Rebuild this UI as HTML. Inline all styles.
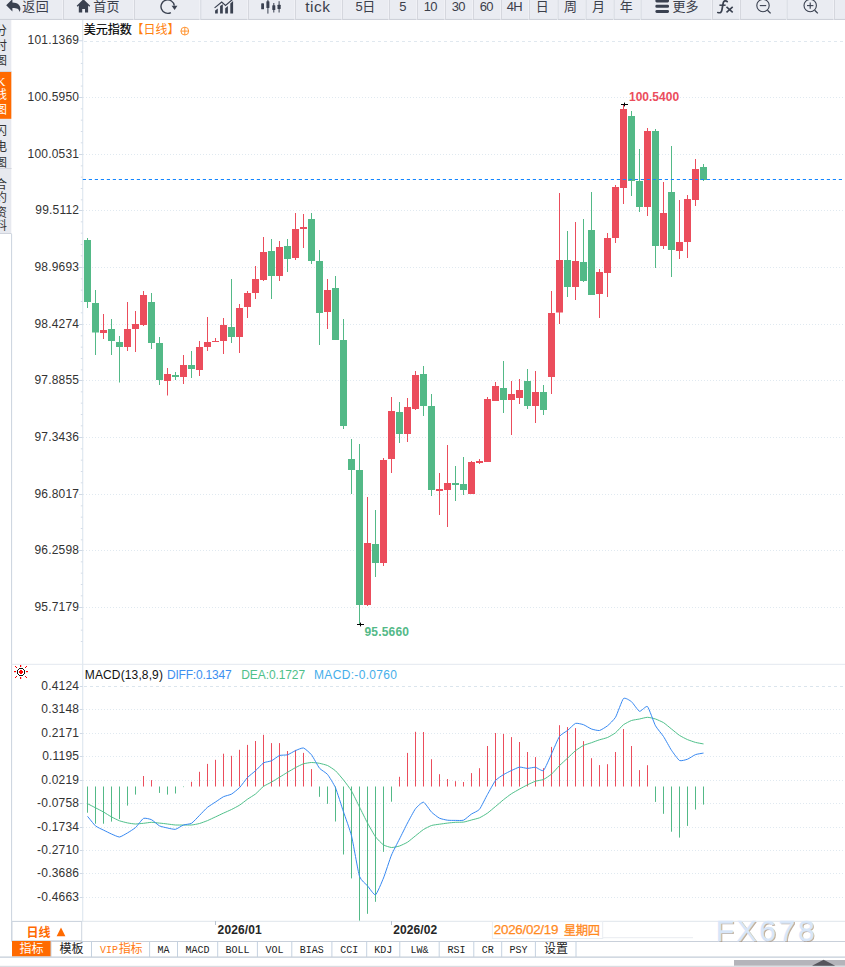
<!DOCTYPE html>
<html><head><meta charset="utf-8"><title>chart</title>
<style>html,body{margin:0;padding:0;background:#fff;}body{width:845px;height:967px;overflow:hidden;font-family:"Liberation Sans",sans-serif;}svg{display:block}</style>
</head><body>
<svg width="845" height="967" viewBox="0 0 845 967">
<defs><filter id="wb" x="-5%" y="-20%" width="110%" height="140%"><feGaussianBlur stdDeviation="0.5"/></filter><clipPath id="sbclip"><rect x="0" y="20" width="11.6" height="214"/></clipPath></defs>
<rect x="0" y="0" width="845" height="20" fill="#f6f7fa"/><rect x="0" y="0" width="62.5" height="20" fill="#eaecf2"/><rect x="0" y="18.9" width="62.5" height="1.1" fill="#ced1d9"/><rect x="63.5" y="0" width="70" height="20" fill="#eaecf2"/><rect x="63.5" y="18.9" width="70" height="1.1" fill="#ced1d9"/><rect x="63.1" y="0" width="0.8" height="20" fill="#ced1d9"/><rect x="134.5" y="0" width="65" height="20" fill="#eaecf2"/><rect x="134.5" y="18.9" width="65" height="1.1" fill="#ced1d9"/><rect x="134.1" y="0" width="0.8" height="20" fill="#ced1d9"/><rect x="200.8" y="0" width="46.7" height="20" fill="#eaecf2"/><rect x="200.8" y="18.9" width="46.7" height="1.1" fill="#ced1d9"/><rect x="200.4" y="0" width="0.8" height="20" fill="#ced1d9"/><rect x="248.5" y="0" width="46" height="20" fill="#eaecf2"/><rect x="248.5" y="18.9" width="46" height="1.1" fill="#ced1d9"/><rect x="248.1" y="0" width="0.8" height="20" fill="#ced1d9"/><rect x="295.5" y="0" width="46" height="20" fill="#eaecf2"/><rect x="295.5" y="18.9" width="46" height="1.1" fill="#ced1d9"/><rect x="295.1" y="0" width="0.8" height="20" fill="#ced1d9"/><rect x="342.5" y="0" width="46" height="20" fill="#eaecf2"/><rect x="342.5" y="18.9" width="46" height="1.1" fill="#ced1d9"/><rect x="342.1" y="0" width="0.8" height="20" fill="#ced1d9"/><rect x="389.5" y="0" width="27" height="20" fill="#eaecf2"/><rect x="389.5" y="18.9" width="27" height="1.1" fill="#ced1d9"/><rect x="389.1" y="0" width="0.8" height="20" fill="#ced1d9"/><rect x="417.5" y="0" width="27" height="20" fill="#eaecf2"/><rect x="417.5" y="18.9" width="27" height="1.1" fill="#ced1d9"/><rect x="417.1" y="0" width="0.8" height="20" fill="#ced1d9"/><rect x="445.5" y="0" width="27" height="20" fill="#eaecf2"/><rect x="445.5" y="18.9" width="27" height="1.1" fill="#ced1d9"/><rect x="445.1" y="0" width="0.8" height="20" fill="#ced1d9"/><rect x="473.5" y="0" width="27" height="20" fill="#eaecf2"/><rect x="473.5" y="18.9" width="27" height="1.1" fill="#ced1d9"/><rect x="473.1" y="0" width="0.8" height="20" fill="#ced1d9"/><rect x="501.5" y="0" width="27" height="20" fill="#eaecf2"/><rect x="501.5" y="18.9" width="27" height="1.1" fill="#ced1d9"/><rect x="501.1" y="0" width="0.8" height="20" fill="#ced1d9"/><rect x="529.5" y="0" width="27.5" height="20" fill="#eaecf2"/><rect x="529.5" y="18.9" width="27.5" height="1.1" fill="#ced1d9"/><rect x="529.1" y="0" width="0.8" height="20" fill="#ced1d9"/><rect x="558" y="0" width="27" height="20" fill="#eaecf2"/><rect x="558" y="18.9" width="27" height="1.1" fill="#ced1d9"/><rect x="557.6" y="0" width="0.8" height="20" fill="#ced1d9"/><rect x="586" y="0" width="27" height="20" fill="#eaecf2"/><rect x="586" y="18.9" width="27" height="1.1" fill="#ced1d9"/><rect x="585.6" y="0" width="0.8" height="20" fill="#ced1d9"/><rect x="614" y="0" width="26" height="20" fill="#eaecf2"/><rect x="614" y="18.9" width="26" height="1.1" fill="#ced1d9"/><rect x="613.6" y="0" width="0.8" height="20" fill="#ced1d9"/><rect x="641" y="0" width="70.5" height="20" fill="#eaecf2"/><rect x="641" y="18.9" width="70.5" height="1.1" fill="#ced1d9"/><rect x="640.6" y="0" width="0.8" height="20" fill="#ced1d9"/><rect x="712.5" y="0" width="27" height="20" fill="#eaecf2"/><rect x="712.5" y="18.9" width="27" height="1.1" fill="#ced1d9"/><rect x="712.1" y="0" width="0.8" height="20" fill="#ced1d9"/><rect x="740.5" y="0" width="45.5" height="20" fill="#eaecf2"/><rect x="740.5" y="18.9" width="45.5" height="1.1" fill="#ced1d9"/><rect x="740.1" y="0" width="0.8" height="20" fill="#ced1d9"/><rect x="787" y="0" width="46.5" height="20" fill="#eaecf2"/><rect x="787" y="18.9" width="46.5" height="1.1" fill="#ced1d9"/><rect x="786.6" y="0" width="0.8" height="20" fill="#ced1d9"/><rect x="834.5" y="0" width="11.5" height="20" fill="#eaecf2"/><rect x="834.5" y="18.9" width="11.5" height="1.1" fill="#ced1d9"/><rect x="834.1" y="0" width="0.8" height="20" fill="#ced1d9"/><path d="M6.2 5.3 L12.4 -0.9 L12.4 2.5 C17.6 2.5 20.4 5.3 20.4 8.8 C20.4 10.2 19.9 11.2 19.2 11.9 C19.3 9.2 17.2 8.1 12.4 8.1 L12.4 11.5 Z" fill="#3a4150"/><text x="22.3" y="11.3" font-family="'Liberation Sans','Noto Sans CJK SC',sans-serif" font-size="13" fill="#3c404b" letter-spacing="0.5">返回</text><path d="M83.4 -0.8 L90.2 5.7 L89.3 6.7 L88.1 5.6 L88.1 12.6 L85 12.6 L85 9.1 L82.2 9.1 L82.2 12.6 L78.8 12.6 L78.8 5.6 L77.6 6.7 L76.7 5.7 Z" fill="#3a4150"/><text x="93.3" y="11.3" font-family="'Liberation Sans','Noto Sans CJK SC',sans-serif" font-size="13" fill="#3c404b" letter-spacing="0.2">首页</text><path d="M174.33 5.67 A6.7 6.7 0 1 0 170.85 12.52" fill="none" stroke="#3a4150" stroke-width="1.4"/><path d="M171.6 5.7 L177.4 5.7 L174.6 9.9 Z" fill="#3a4150"/><path d="M215.1 10.6 L217.8 8.4 V13.6 H215.1 Z M220.1 6 L222.8 4.2 V13.6 H220.1 Z M225.2 8.2 L227.9 6 V13.6 H225.2 Z M230.3 3.4 L233.1 1 V13.6 H230.3 Z" fill="#3a4150"/><path d="M214.6 7.9 L221.7 2.1 L225.5 5.4 L232.4 -0.4" fill="none" stroke="#3a4150" stroke-width="1.2"/><g fill="#3a4150"><rect x="261.2" y="3.3" width="2.8" height="6" rx="0.6"/><rect x="266.4" y="1.2" width="3" height="6.9" rx="0.5"/><rect x="267.4" y="-1" width="1" height="14.6"/><rect x="272.3" y="5.3" width="3" height="4.8" rx="0.5"/><rect x="273.3" y="3" width="1" height="9.5"/><rect x="277.5" y="4.7" width="3.2" height="4.3" rx="0.5"/><rect x="278.6" y="1.2" width="1" height="11.3"/></g><text x="305.2" y="11.6" font-family="Liberation Sans" font-size="15.5" fill="#3c404b" letter-spacing="0.55">tick</text><text x="355.4" y="11.4" font-family="Liberation Sans" font-size="13" fill="#3c404b">5</text><text x="362.2" y="11.3" font-family="'Liberation Sans','Noto Sans CJK SC',sans-serif" font-size="13" fill="#3c404b">日</text><text x="402.6" y="11.4" font-family="Liberation Sans" font-size="13" fill="#3c404b" text-anchor="middle" letter-spacing="-0.7">5</text><text x="430.2" y="11.4" font-family="Liberation Sans" font-size="13" fill="#3c404b" text-anchor="middle" letter-spacing="-0.7">10</text><text x="458.2" y="11.4" font-family="Liberation Sans" font-size="13" fill="#3c404b" text-anchor="middle" letter-spacing="-0.7">30</text><text x="486.2" y="11.4" font-family="Liberation Sans" font-size="13" fill="#3c404b" text-anchor="middle" letter-spacing="-0.7">60</text><text x="514.4" y="11.4" font-family="Liberation Sans" font-size="13" fill="#3c404b" text-anchor="middle" letter-spacing="-0.7">4H</text><text x="535.8" y="11.4" font-family="'Liberation Sans','Noto Sans CJK SC',sans-serif" font-size="13" fill="#3c404b">日</text><text x="564" y="11.4" font-family="'Liberation Sans','Noto Sans CJK SC',sans-serif" font-size="13" fill="#3c404b">周</text><text x="592" y="11.4" font-family="'Liberation Sans','Noto Sans CJK SC',sans-serif" font-size="13" fill="#3c404b">月</text><text x="619.7" y="11.4" font-family="'Liberation Sans','Noto Sans CJK SC',sans-serif" font-size="13" fill="#3c404b">年</text><g fill="#3a4150"><rect x="655.4" y="-1" width="13.6" height="3.4" rx="1.3"/><rect x="655.4" y="4.7" width="13.6" height="3" rx="1.3"/><rect x="655.4" y="9.9" width="13.6" height="3" rx="1.3"/></g><text x="672.4" y="11.4" font-family="'Liberation Sans','Noto Sans CJK SC',sans-serif" font-size="13" fill="#3c404b" letter-spacing="0.2">更多</text><path d="M727.2 1.6 C725.6 0.2 723.6 0.7 723.2 3 L721.9 10 C721.5 12.3 720.2 13.3 717.8 12.5" stroke="#3a4150" stroke-width="1.7" fill="none" stroke-linecap="round"/><path d="M719.4 5.2 H725.6" stroke="#3a4150" stroke-width="1.5" fill="none"/><path d="M726.5 6.9 L732.7 12.3 M732.7 6.9 L726.5 12.3" stroke="#3a4150" stroke-width="1.6" fill="none"/><circle cx="763" cy="5.6" r="6.2" fill="none" stroke="#3a4150" stroke-width="1.1"/><path d="M767.5 10.2 L770.6 13.4" stroke="#3a4150" stroke-width="1.3" fill="none"/><path d="M759.8 5.6 H766.2" stroke="#3a4150" stroke-width="1.1"/><circle cx="810.2" cy="5.6" r="6.2" fill="none" stroke="#3a4150" stroke-width="1.1"/><path d="M814.7 10.2 L817.8000000000001 13.4" stroke="#3a4150" stroke-width="1.3" fill="none"/><path d="M807.0 5.6 H813.4000000000001" stroke="#3a4150" stroke-width="1.1"/><path d="M810.2 2.4 V8.8" stroke="#3a4150" stroke-width="1.1"/><rect x="0" y="20" width="11.3" height="213.2" fill="#e7e9ef"/><rect x="0" y="72" width="11.3" height="46.8" fill="#ff6a00"/><line x1="0" y1="71.5" x2="11.6" y2="71.5" stroke="#d3d6de" stroke-width="1"/><line x1="0" y1="168.5" x2="11.6" y2="168.5" stroke="#d3d6de" stroke-width="1"/><line x1="0" y1="233.5" x2="11.6" y2="233.5" stroke="#cfd3dc" stroke-width="1"/><g clip-path="url(#sbclip)" font-family="'Liberation Sans','Noto Sans CJK SC',sans-serif" font-size="12"><text x="-4.9" y="34.5" fill="#333">分</text><text x="-4.9" y="50" fill="#333">时</text><text x="-4.9" y="65.3" fill="#333">图</text><text x="-3.4" y="86.4" font-family="Liberation Serif" font-size="12.5" fill="#fff">K</text><text x="-4.9" y="99.2" fill="#fff">线</text><text x="-4.9" y="113.7" fill="#fff">图</text><text x="-4.9" y="135.1" fill="#333">闪</text><text x="-4.9" y="150.6" fill="#333">电</text><text x="-4.9" y="167.3" fill="#333">图</text><text x="-4.9" y="188.7" fill="#333">合</text><text x="-4.9" y="202.4" fill="#333">约</text><text x="-4.9" y="216.8" fill="#333">资</text><text x="-4.9" y="230.4" fill="#333">料</text></g><line x1="11.6" y1="234" x2="11.6" y2="941" stroke="#cad3de" stroke-width="1"/><line x1="82.7" y1="20" x2="82.7" y2="921" stroke="#dfe8f0" stroke-width="1.2"/><line x1="11.5" y1="664.3" x2="845" y2="664.3" stroke="#e3e8ef" stroke-width="1"/><line x1="11.5" y1="921.3" x2="845" y2="921.3" stroke="#dfe5ec" stroke-width="1"/><line x1="11.5" y1="941.5" x2="845" y2="941.5" stroke="#c9d0da" stroke-width="1.2"/><line x1="84" y1="41.5" x2="845" y2="41.5" stroke="#e0e8ef" stroke-width="1" stroke-dasharray="3 3"/><line x1="79" y1="40.75" x2="82.7" y2="40.75" stroke="#cfd8e4" stroke-width="1"/><text x="79.2" y="44.45" font-family="Liberation Sans" font-size="12" fill="#333" text-anchor="end" letter-spacing="0.2">101.1369</text><line x1="80.8" y1="52.08" x2="82.7" y2="52.08" stroke="#d5dde8" stroke-width="1"/><line x1="80.8" y1="63.41" x2="82.7" y2="63.41" stroke="#d5dde8" stroke-width="1"/><line x1="80.8" y1="74.74" x2="82.7" y2="74.74" stroke="#d5dde8" stroke-width="1"/><line x1="80.8" y1="86.07" x2="82.7" y2="86.07" stroke="#d5dde8" stroke-width="1"/><line x1="83" y1="97.5" x2="843" y2="97.5" stroke="#e0e9f0" stroke-width="1" stroke-dasharray="1 2"/><line x1="79" y1="97.5" x2="82.7" y2="97.5" stroke="#cfd8e4" stroke-width="1"/><text x="79.2" y="101.2" font-family="Liberation Sans" font-size="12" fill="#333" text-anchor="end" letter-spacing="0.2">100.5950</text><line x1="80.8" y1="108.83" x2="82.7" y2="108.83" stroke="#d5dde8" stroke-width="1"/><line x1="80.8" y1="120.16" x2="82.7" y2="120.16" stroke="#d5dde8" stroke-width="1"/><line x1="80.8" y1="131.49" x2="82.7" y2="131.49" stroke="#d5dde8" stroke-width="1"/><line x1="80.8" y1="142.82" x2="82.7" y2="142.82" stroke="#d5dde8" stroke-width="1"/><line x1="83" y1="154.5" x2="843" y2="154.5" stroke="#e0e9f0" stroke-width="1" stroke-dasharray="1 2"/><line x1="79" y1="154.5" x2="82.7" y2="154.5" stroke="#cfd8e4" stroke-width="1"/><text x="79.2" y="158.2" font-family="Liberation Sans" font-size="12" fill="#333" text-anchor="end" letter-spacing="0.2">100.0531</text><line x1="80.8" y1="165.83" x2="82.7" y2="165.83" stroke="#d5dde8" stroke-width="1"/><line x1="80.8" y1="177.16" x2="82.7" y2="177.16" stroke="#d5dde8" stroke-width="1"/><line x1="80.8" y1="188.49" x2="82.7" y2="188.49" stroke="#d5dde8" stroke-width="1"/><line x1="80.8" y1="199.82" x2="82.7" y2="199.82" stroke="#d5dde8" stroke-width="1"/><line x1="83" y1="210.5" x2="843" y2="210.5" stroke="#e0e9f0" stroke-width="1" stroke-dasharray="1 2"/><line x1="79" y1="210.5" x2="82.7" y2="210.5" stroke="#cfd8e4" stroke-width="1"/><text x="79.2" y="214.2" font-family="Liberation Sans" font-size="12" fill="#333" text-anchor="end" letter-spacing="0.2">99.5112</text><line x1="80.8" y1="221.83" x2="82.7" y2="221.83" stroke="#d5dde8" stroke-width="1"/><line x1="80.8" y1="233.16" x2="82.7" y2="233.16" stroke="#d5dde8" stroke-width="1"/><line x1="80.8" y1="244.49" x2="82.7" y2="244.49" stroke="#d5dde8" stroke-width="1"/><line x1="80.8" y1="255.82" x2="82.7" y2="255.82" stroke="#d5dde8" stroke-width="1"/><line x1="83" y1="267.5" x2="843" y2="267.5" stroke="#e0e9f0" stroke-width="1" stroke-dasharray="1 2"/><line x1="79" y1="267.5" x2="82.7" y2="267.5" stroke="#cfd8e4" stroke-width="1"/><text x="79.2" y="271.2" font-family="Liberation Sans" font-size="12" fill="#333" text-anchor="end" letter-spacing="0.2">98.9693</text><line x1="80.8" y1="278.83" x2="82.7" y2="278.83" stroke="#d5dde8" stroke-width="1"/><line x1="80.8" y1="290.16" x2="82.7" y2="290.16" stroke="#d5dde8" stroke-width="1"/><line x1="80.8" y1="301.49" x2="82.7" y2="301.49" stroke="#d5dde8" stroke-width="1"/><line x1="80.8" y1="312.82" x2="82.7" y2="312.82" stroke="#d5dde8" stroke-width="1"/><line x1="83" y1="324.5" x2="843" y2="324.5" stroke="#e0e9f0" stroke-width="1" stroke-dasharray="1 2"/><line x1="79" y1="324.5" x2="82.7" y2="324.5" stroke="#cfd8e4" stroke-width="1"/><text x="79.2" y="328.2" font-family="Liberation Sans" font-size="12" fill="#333" text-anchor="end" letter-spacing="0.2">98.4274</text><line x1="80.8" y1="335.83" x2="82.7" y2="335.83" stroke="#d5dde8" stroke-width="1"/><line x1="80.8" y1="347.16" x2="82.7" y2="347.16" stroke="#d5dde8" stroke-width="1"/><line x1="80.8" y1="358.49" x2="82.7" y2="358.49" stroke="#d5dde8" stroke-width="1"/><line x1="80.8" y1="369.82" x2="82.7" y2="369.82" stroke="#d5dde8" stroke-width="1"/><line x1="83" y1="380.5" x2="843" y2="380.5" stroke="#e0e9f0" stroke-width="1" stroke-dasharray="1 2"/><line x1="79" y1="380.5" x2="82.7" y2="380.5" stroke="#cfd8e4" stroke-width="1"/><text x="79.2" y="384.2" font-family="Liberation Sans" font-size="12" fill="#333" text-anchor="end" letter-spacing="0.2">97.8855</text><line x1="80.8" y1="391.83" x2="82.7" y2="391.83" stroke="#d5dde8" stroke-width="1"/><line x1="80.8" y1="403.16" x2="82.7" y2="403.16" stroke="#d5dde8" stroke-width="1"/><line x1="80.8" y1="414.49" x2="82.7" y2="414.49" stroke="#d5dde8" stroke-width="1"/><line x1="80.8" y1="425.82" x2="82.7" y2="425.82" stroke="#d5dde8" stroke-width="1"/><line x1="83" y1="437.5" x2="843" y2="437.5" stroke="#e0e9f0" stroke-width="1" stroke-dasharray="1 2"/><line x1="79" y1="437.5" x2="82.7" y2="437.5" stroke="#cfd8e4" stroke-width="1"/><text x="79.2" y="441.2" font-family="Liberation Sans" font-size="12" fill="#333" text-anchor="end" letter-spacing="0.2">97.3436</text><line x1="80.8" y1="448.83" x2="82.7" y2="448.83" stroke="#d5dde8" stroke-width="1"/><line x1="80.8" y1="460.16" x2="82.7" y2="460.16" stroke="#d5dde8" stroke-width="1"/><line x1="80.8" y1="471.49" x2="82.7" y2="471.49" stroke="#d5dde8" stroke-width="1"/><line x1="80.8" y1="482.82" x2="82.7" y2="482.82" stroke="#d5dde8" stroke-width="1"/><line x1="83" y1="494.5" x2="843" y2="494.5" stroke="#e0e9f0" stroke-width="1" stroke-dasharray="1 2"/><line x1="79" y1="494.5" x2="82.7" y2="494.5" stroke="#cfd8e4" stroke-width="1"/><text x="79.2" y="498.2" font-family="Liberation Sans" font-size="12" fill="#333" text-anchor="end" letter-spacing="0.2">96.8017</text><line x1="80.8" y1="505.83" x2="82.7" y2="505.83" stroke="#d5dde8" stroke-width="1"/><line x1="80.8" y1="517.16" x2="82.7" y2="517.16" stroke="#d5dde8" stroke-width="1"/><line x1="80.8" y1="528.49" x2="82.7" y2="528.49" stroke="#d5dde8" stroke-width="1"/><line x1="80.8" y1="539.82" x2="82.7" y2="539.82" stroke="#d5dde8" stroke-width="1"/><line x1="83" y1="550.5" x2="843" y2="550.5" stroke="#e0e9f0" stroke-width="1" stroke-dasharray="1 2"/><line x1="79" y1="550.5" x2="82.7" y2="550.5" stroke="#cfd8e4" stroke-width="1"/><text x="79.2" y="554.2" font-family="Liberation Sans" font-size="12" fill="#333" text-anchor="end" letter-spacing="0.2">96.2598</text><line x1="80.8" y1="561.83" x2="82.7" y2="561.83" stroke="#d5dde8" stroke-width="1"/><line x1="80.8" y1="573.16" x2="82.7" y2="573.16" stroke="#d5dde8" stroke-width="1"/><line x1="80.8" y1="584.49" x2="82.7" y2="584.49" stroke="#d5dde8" stroke-width="1"/><line x1="80.8" y1="595.82" x2="82.7" y2="595.82" stroke="#d5dde8" stroke-width="1"/><line x1="83" y1="607.5" x2="843" y2="607.5" stroke="#e0e9f0" stroke-width="1" stroke-dasharray="1 2"/><line x1="79" y1="607.5" x2="82.7" y2="607.5" stroke="#cfd8e4" stroke-width="1"/><text x="79.2" y="611.2" font-family="Liberation Sans" font-size="12" fill="#333" text-anchor="end" letter-spacing="0.2">95.7179</text><line x1="80.8" y1="618.83" x2="82.7" y2="618.83" stroke="#d5dde8" stroke-width="1"/><line x1="80.8" y1="630.16" x2="82.7" y2="630.16" stroke="#d5dde8" stroke-width="1"/><line x1="80.8" y1="641.49" x2="82.7" y2="641.49" stroke="#d5dde8" stroke-width="1"/><text x="83.8" y="34.4" font-family="'Liberation Sans','Noto Sans CJK SC',sans-serif" font-size="12" fill="#000" stroke="#000" stroke-width="0.2">美元指数</text><text x="131.6" y="34.4" font-family="'Liberation Sans','Noto Sans CJK SC',sans-serif" font-size="12" fill="#ff7f0e">【日线】</text><g stroke="#ff8a1f" stroke-width="0.9" fill="none"><circle cx="184.8" cy="31.1" r="3.9"/><path d="M180.9 31.1 H188.7 M184.8 27.2 V35"/></g><rect x="87" y="238" width="1" height="70" fill="#53b987"/><rect x="84" y="240" width="7" height="62" fill="#53b987"/><rect x="95" y="290" width="1" height="65" fill="#53b987"/><rect x="92" y="303" width="7" height="29.5" fill="#53b987"/><rect x="103" y="314" width="1" height="25" fill="#eb4d5c"/><rect x="100" y="330" width="7" height="3" fill="#eb4d5c"/><rect x="111" y="319" width="1" height="36" fill="#53b987"/><rect x="108" y="329" width="7" height="12" fill="#53b987"/><rect x="119" y="336" width="1" height="46.5" fill="#53b987"/><rect x="116" y="342" width="7" height="5" fill="#53b987"/><rect x="127" y="302" width="1" height="49" fill="#eb4d5c"/><rect x="124" y="329" width="7" height="18" fill="#eb4d5c"/><rect x="135" y="311" width="1" height="41" fill="#eb4d5c"/><rect x="132" y="324" width="7" height="5" fill="#eb4d5c"/><rect x="143" y="291" width="1" height="35" fill="#eb4d5c"/><rect x="140" y="295" width="7" height="30" fill="#eb4d5c"/><rect x="151" y="293" width="1" height="56" fill="#53b987"/><rect x="148" y="302" width="7" height="41" fill="#53b987"/><rect x="159" y="337" width="1" height="48" fill="#53b987"/><rect x="156" y="343" width="7" height="37" fill="#53b987"/><rect x="167" y="368" width="1" height="27.5" fill="#eb4d5c"/><rect x="164" y="374" width="7" height="7" fill="#eb4d5c"/><rect x="175" y="372" width="1" height="8" fill="#53b987"/><rect x="172" y="375" width="7" height="2" fill="#53b987"/><rect x="183" y="355" width="1" height="29" fill="#eb4d5c"/><rect x="180" y="365" width="7" height="12" fill="#eb4d5c"/><rect x="191" y="351" width="1" height="27" fill="#53b987"/><rect x="188" y="365" width="7" height="4" fill="#53b987"/><rect x="199" y="341" width="1" height="35" fill="#eb4d5c"/><rect x="196" y="347" width="7" height="23" fill="#eb4d5c"/><rect x="207" y="317" width="1" height="34" fill="#eb4d5c"/><rect x="204" y="342" width="7" height="5" fill="#eb4d5c"/><rect x="215" y="338" width="1" height="4" fill="#eb4d5c"/><rect x="212" y="341" width="7" height="1" fill="#eb4d5c"/><rect x="223" y="318" width="1" height="36" fill="#eb4d5c"/><rect x="220" y="325" width="7" height="16" fill="#eb4d5c"/><rect x="231" y="279" width="1" height="64" fill="#53b987"/><rect x="228" y="327" width="7" height="10" fill="#53b987"/><rect x="239" y="304" width="1" height="49" fill="#eb4d5c"/><rect x="236" y="308" width="7" height="29" fill="#eb4d5c"/><rect x="247" y="291" width="1" height="27" fill="#eb4d5c"/><rect x="244" y="293" width="7" height="14" fill="#eb4d5c"/><rect x="255" y="266" width="1" height="33" fill="#eb4d5c"/><rect x="252" y="279" width="7" height="14" fill="#eb4d5c"/><rect x="263" y="237" width="1" height="44" fill="#eb4d5c"/><rect x="260" y="252" width="7" height="28" fill="#eb4d5c"/><rect x="271" y="239" width="1" height="60" fill="#53b987"/><rect x="268" y="251" width="7" height="25" fill="#53b987"/><rect x="279" y="241" width="1" height="40" fill="#eb4d5c"/><rect x="276" y="247" width="7" height="29" fill="#eb4d5c"/><rect x="287" y="239" width="1" height="33" fill="#53b987"/><rect x="284" y="246" width="7" height="13" fill="#53b987"/><rect x="295" y="213" width="1" height="47" fill="#eb4d5c"/><rect x="292" y="229" width="7" height="29" fill="#eb4d5c"/><rect x="303" y="214" width="1" height="34" fill="#eb4d5c"/><rect x="300" y="227" width="7" height="2" fill="#eb4d5c"/><rect x="311" y="213" width="1" height="51" fill="#53b987"/><rect x="308" y="219" width="7" height="42" fill="#53b987"/><rect x="319" y="250" width="1" height="95" fill="#53b987"/><rect x="316" y="261" width="7" height="52" fill="#53b987"/><rect x="327" y="279" width="1" height="50" fill="#eb4d5c"/><rect x="324" y="290" width="7" height="22" fill="#eb4d5c"/><rect x="335" y="276" width="1" height="64" fill="#53b987"/><rect x="332" y="288" width="7" height="52" fill="#53b987"/><rect x="343" y="319" width="1" height="110" fill="#53b987"/><rect x="340" y="340" width="7" height="86" fill="#53b987"/><rect x="351" y="439" width="1" height="55" fill="#53b987"/><rect x="348" y="459" width="7" height="11" fill="#53b987"/><rect x="359" y="444" width="1" height="180.5" fill="#53b987"/><rect x="356" y="470" width="7" height="135" fill="#53b987"/><rect x="367" y="497" width="1" height="109" fill="#eb4d5c"/><rect x="364" y="543" width="7" height="62" fill="#eb4d5c"/><rect x="375" y="510" width="1" height="67" fill="#53b987"/><rect x="372" y="544" width="7" height="19" fill="#53b987"/><rect x="383" y="458" width="1" height="108" fill="#eb4d5c"/><rect x="380" y="460" width="7" height="103" fill="#eb4d5c"/><rect x="391" y="397" width="1" height="76" fill="#eb4d5c"/><rect x="388" y="411" width="7" height="48" fill="#eb4d5c"/><rect x="399" y="402" width="1" height="41" fill="#53b987"/><rect x="396" y="412" width="7" height="22" fill="#53b987"/><rect x="407" y="398" width="1" height="44" fill="#eb4d5c"/><rect x="404" y="407" width="7" height="27" fill="#eb4d5c"/><rect x="415" y="371" width="1" height="39" fill="#eb4d5c"/><rect x="412" y="375" width="7" height="34" fill="#eb4d5c"/><rect x="423" y="366" width="1" height="50" fill="#53b987"/><rect x="420" y="374" width="7" height="32" fill="#53b987"/><rect x="431" y="394" width="1" height="102" fill="#53b987"/><rect x="428" y="406" width="7" height="84" fill="#53b987"/><rect x="439" y="473" width="1" height="42" fill="#eb4d5c"/><rect x="436" y="489" width="7" height="2" fill="#eb4d5c"/><rect x="447" y="445" width="1" height="82" fill="#eb4d5c"/><rect x="444" y="483" width="7" height="7" fill="#eb4d5c"/><rect x="455" y="466" width="1" height="35" fill="#53b987"/><rect x="452" y="483" width="7" height="2" fill="#53b987"/><rect x="463" y="457" width="1" height="38" fill="#53b987"/><rect x="460" y="484" width="7" height="6" fill="#53b987"/><rect x="471" y="461" width="1" height="33" fill="#eb4d5c"/><rect x="468" y="462" width="7" height="32" fill="#eb4d5c"/><rect x="479" y="459" width="1" height="5" fill="#eb4d5c"/><rect x="476" y="461" width="7" height="2" fill="#eb4d5c"/><rect x="487" y="397" width="1" height="65" fill="#eb4d5c"/><rect x="484" y="399" width="7" height="63" fill="#eb4d5c"/><rect x="495" y="382" width="1" height="19" fill="#eb4d5c"/><rect x="492" y="386" width="7" height="15" fill="#eb4d5c"/><rect x="503" y="361" width="1" height="52" fill="#53b987"/><rect x="500" y="388" width="7" height="12" fill="#53b987"/><rect x="511" y="381" width="1" height="54" fill="#eb4d5c"/><rect x="508" y="394" width="7" height="6" fill="#eb4d5c"/><rect x="519" y="379" width="1" height="25" fill="#eb4d5c"/><rect x="516" y="390" width="7" height="8" fill="#eb4d5c"/><rect x="527" y="369" width="1" height="40" fill="#53b987"/><rect x="524" y="381" width="7" height="25" fill="#53b987"/><rect x="535" y="371" width="1" height="52" fill="#eb4d5c"/><rect x="532" y="392" width="7" height="14" fill="#eb4d5c"/><rect x="543" y="385" width="1" height="30" fill="#53b987"/><rect x="540" y="392" width="7" height="18" fill="#53b987"/><rect x="551" y="291" width="1" height="103" fill="#eb4d5c"/><rect x="548" y="313" width="7" height="64" fill="#eb4d5c"/><rect x="559" y="193" width="1" height="131" fill="#eb4d5c"/><rect x="556" y="260" width="7" height="52.5" fill="#eb4d5c"/><rect x="567" y="231" width="1" height="66" fill="#53b987"/><rect x="564" y="260" width="7" height="27" fill="#53b987"/><rect x="575" y="222" width="1" height="78" fill="#eb4d5c"/><rect x="572" y="261" width="7" height="26" fill="#eb4d5c"/><rect x="583" y="219" width="1" height="63" fill="#53b987"/><rect x="580" y="262" width="7" height="19" fill="#53b987"/><rect x="591" y="192" width="1" height="103" fill="#53b987"/><rect x="588" y="230" width="7" height="65" fill="#53b987"/><rect x="599" y="269" width="1" height="49" fill="#eb4d5c"/><rect x="596" y="272" width="7" height="22" fill="#eb4d5c"/><rect x="607" y="233" width="1" height="64" fill="#eb4d5c"/><rect x="604" y="238" width="7" height="35" fill="#eb4d5c"/><rect x="615" y="185" width="1" height="58" fill="#eb4d5c"/><rect x="612" y="187" width="7" height="51" fill="#eb4d5c"/><rect x="623" y="104.5" width="1" height="99.5" fill="#eb4d5c"/><rect x="620" y="109" width="7" height="79" fill="#eb4d5c"/><rect x="631" y="111" width="1" height="85" fill="#53b987"/><rect x="628" y="116" width="7" height="65" fill="#53b987"/><rect x="639" y="149" width="1" height="63" fill="#53b987"/><rect x="636" y="181" width="7" height="26" fill="#53b987"/><rect x="647" y="128" width="1" height="88" fill="#eb4d5c"/><rect x="644" y="131" width="7" height="76" fill="#eb4d5c"/><rect x="655" y="129" width="1" height="139" fill="#53b987"/><rect x="652" y="131" width="7" height="115" fill="#53b987"/><rect x="663" y="182" width="1" height="67" fill="#eb4d5c"/><rect x="660" y="213" width="7" height="33" fill="#eb4d5c"/><rect x="671" y="146" width="1" height="131" fill="#53b987"/><rect x="668" y="192" width="7" height="58" fill="#53b987"/><rect x="679" y="200" width="1" height="59" fill="#eb4d5c"/><rect x="676" y="242" width="7" height="9" fill="#eb4d5c"/><rect x="687" y="195" width="1" height="63" fill="#eb4d5c"/><rect x="684" y="199" width="7" height="43" fill="#eb4d5c"/><rect x="695" y="159" width="1" height="47" fill="#eb4d5c"/><rect x="692" y="169" width="7" height="31" fill="#eb4d5c"/><rect x="703" y="164" width="1" height="17" fill="#53b987"/><rect x="700" y="167" width="7" height="13" fill="#53b987"/><line x1="82.8" y1="179.5" x2="842.5" y2="179.5" stroke="#1587ff" stroke-width="1.2" stroke-dasharray="3.2 2.8"/><path d="M621 104.5 H628 M624.5 102.6 V106.4" stroke="#000" stroke-width="1" fill="none"/><text x="629" y="101" font-family="Liberation Sans" font-size="12" fill="#eb4d5c" font-weight="bold">100.5400</text><path d="M357 624.5 H364 M360.5 622.6 V626.4" stroke="#000" stroke-width="1" fill="none"/><text x="364.4" y="635.8" font-family="Liberation Sans" font-size="12" fill="#53b987" font-weight="bold" letter-spacing="0.2">95.5660</text><line x1="84" y1="686.5" x2="845" y2="686.5" stroke="#dbe5ed" stroke-width="1" stroke-dasharray="3 3"/><line x1="79.8" y1="686.5" x2="82.7" y2="686.5" stroke="#cfd8e4" stroke-width="1"/><text x="79.2" y="690.2" font-family="Liberation Sans" font-size="12" fill="#333" text-anchor="end" letter-spacing="0.2">0.4124</text><line x1="83" y1="709.5" x2="843" y2="709.5" stroke="#e0e9f0" stroke-width="1" stroke-dasharray="1 2"/><line x1="79.8" y1="709.5" x2="82.7" y2="709.5" stroke="#cfd8e4" stroke-width="1"/><text x="79.2" y="713.2" font-family="Liberation Sans" font-size="12" fill="#333" text-anchor="end" letter-spacing="0.2">0.3148</text><line x1="83" y1="733.5" x2="843" y2="733.5" stroke="#e0e9f0" stroke-width="1" stroke-dasharray="1 2"/><line x1="79.8" y1="733.5" x2="82.7" y2="733.5" stroke="#cfd8e4" stroke-width="1"/><text x="79.2" y="737.2" font-family="Liberation Sans" font-size="12" fill="#333" text-anchor="end" letter-spacing="0.2">0.2171</text><line x1="83" y1="756.5" x2="843" y2="756.5" stroke="#e0e9f0" stroke-width="1" stroke-dasharray="1 2"/><line x1="79.8" y1="756.5" x2="82.7" y2="756.5" stroke="#cfd8e4" stroke-width="1"/><text x="79.2" y="760.2" font-family="Liberation Sans" font-size="12" fill="#333" text-anchor="end" letter-spacing="0.2">0.1195</text><line x1="83" y1="780.5" x2="843" y2="780.5" stroke="#e0e9f0" stroke-width="1" stroke-dasharray="1 2"/><line x1="79.8" y1="780.5" x2="82.7" y2="780.5" stroke="#cfd8e4" stroke-width="1"/><text x="79.2" y="784.2" font-family="Liberation Sans" font-size="12" fill="#333" text-anchor="end" letter-spacing="0.2">0.0219</text><line x1="83" y1="803.5" x2="843" y2="803.5" stroke="#e0e9f0" stroke-width="1" stroke-dasharray="1 2"/><line x1="79.8" y1="803.5" x2="82.7" y2="803.5" stroke="#cfd8e4" stroke-width="1"/><text x="79.2" y="807.2" font-family="Liberation Sans" font-size="12" fill="#333" text-anchor="end" letter-spacing="0.2">-0.0758</text><line x1="83" y1="827.5" x2="843" y2="827.5" stroke="#e0e9f0" stroke-width="1" stroke-dasharray="1 2"/><line x1="79.8" y1="827.5" x2="82.7" y2="827.5" stroke="#cfd8e4" stroke-width="1"/><text x="79.2" y="831.2" font-family="Liberation Sans" font-size="12" fill="#333" text-anchor="end" letter-spacing="0.2">-0.1734</text><line x1="83" y1="850.5" x2="843" y2="850.5" stroke="#e0e9f0" stroke-width="1" stroke-dasharray="1 2"/><line x1="79.8" y1="850.5" x2="82.7" y2="850.5" stroke="#cfd8e4" stroke-width="1"/><text x="79.2" y="854.2" font-family="Liberation Sans" font-size="12" fill="#333" text-anchor="end" letter-spacing="0.2">-0.2710</text><line x1="83" y1="873.5" x2="843" y2="873.5" stroke="#e0e9f0" stroke-width="1" stroke-dasharray="1 2"/><line x1="79.8" y1="873.5" x2="82.7" y2="873.5" stroke="#cfd8e4" stroke-width="1"/><text x="79.2" y="877.2" font-family="Liberation Sans" font-size="12" fill="#333" text-anchor="end" letter-spacing="0.2">-0.3686</text><line x1="83" y1="897.5" x2="843" y2="897.5" stroke="#e0e9f0" stroke-width="1" stroke-dasharray="1 2"/><line x1="79.8" y1="897.5" x2="82.7" y2="897.5" stroke="#cfd8e4" stroke-width="1"/><text x="79.2" y="901.2" font-family="Liberation Sans" font-size="12" fill="#333" text-anchor="end" letter-spacing="0.2">-0.4663</text><rect x="87" y="786.5" width="1" height="26.2" fill="#53b987"/><rect x="95" y="786.5" width="1" height="37.2" fill="#53b987"/><rect x="103" y="786.5" width="1" height="37.2" fill="#53b987"/><rect x="111" y="786.5" width="1" height="35.1" fill="#53b987"/><rect x="119" y="786.5" width="1" height="32.6" fill="#53b987"/><rect x="127" y="786.5" width="1" height="19.1" fill="#53b987"/><rect x="135" y="786.5" width="1" height="8.1" fill="#53b987"/><rect x="143" y="776" width="1" height="10.5" fill="#eb4d5c"/><rect x="151" y="780.1" width="1" height="6.4" fill="#eb4d5c"/><rect x="159" y="786.5" width="1" height="6.4" fill="#53b987"/><rect x="167" y="786.5" width="1" height="8.1" fill="#53b987"/><rect x="175" y="786.5" width="1" height="7" fill="#53b987"/><rect x="183" y="786.5" width="1" height="0.6" fill="#53b987"/><rect x="191" y="781.8" width="1" height="4.7" fill="#eb4d5c"/><rect x="199" y="771.8" width="1" height="14.7" fill="#eb4d5c"/><rect x="207" y="763.9" width="1" height="22.6" fill="#eb4d5c"/><rect x="215" y="759.8" width="1" height="26.7" fill="#eb4d5c"/><rect x="223" y="753.7" width="1" height="32.8" fill="#eb4d5c"/><rect x="231" y="755.8" width="1" height="30.7" fill="#eb4d5c"/><rect x="239" y="749.8" width="1" height="36.7" fill="#eb4d5c"/><rect x="247" y="744.9" width="1" height="41.6" fill="#eb4d5c"/><rect x="255" y="741" width="1" height="45.5" fill="#eb4d5c"/><rect x="263" y="734.8" width="1" height="51.7" fill="#eb4d5c"/><rect x="271" y="743.1" width="1" height="43.4" fill="#eb4d5c"/><rect x="279" y="743.1" width="1" height="43.4" fill="#eb4d5c"/><rect x="287" y="751" width="1" height="35.5" fill="#eb4d5c"/><rect x="295" y="749.9" width="1" height="36.6" fill="#eb4d5c"/><rect x="303" y="752.9" width="1" height="33.6" fill="#eb4d5c"/><rect x="311" y="769.1" width="1" height="17.4" fill="#eb4d5c"/><rect x="319" y="786.5" width="1" height="10.3" fill="#53b987"/><rect x="327" y="786.5" width="1" height="17.3" fill="#53b987"/><rect x="335" y="786.5" width="1" height="35" fill="#53b987"/><rect x="343" y="786.5" width="1" height="68" fill="#53b987"/><rect x="351" y="786.5" width="1" height="91.9" fill="#53b987"/><rect x="359" y="786.5" width="1" height="134.1" fill="#53b987"/><rect x="367" y="786.5" width="1" height="127.3" fill="#53b987"/><rect x="375" y="786.5" width="1" height="115.3" fill="#53b987"/><rect x="383" y="786.5" width="1" height="65.3" fill="#53b987"/><rect x="391" y="786.5" width="1" height="15.2" fill="#53b987"/><rect x="399" y="776.8" width="1" height="9.7" fill="#eb4d5c"/><rect x="407" y="752.9" width="1" height="33.6" fill="#eb4d5c"/><rect x="415" y="731.8" width="1" height="54.7" fill="#eb4d5c"/><rect x="423" y="732" width="1" height="54.5" fill="#eb4d5c"/><rect x="431" y="759.2" width="1" height="27.3" fill="#eb4d5c"/><rect x="439" y="774.2" width="1" height="12.3" fill="#eb4d5c"/><rect x="447" y="779" width="1" height="7.5" fill="#eb4d5c"/><rect x="455" y="781.2" width="1" height="5.3" fill="#eb4d5c"/><rect x="463" y="782" width="1" height="4.5" fill="#eb4d5c"/><rect x="471" y="773.1" width="1" height="13.4" fill="#eb4d5c"/><rect x="479" y="768.2" width="1" height="18.3" fill="#eb4d5c"/><rect x="487" y="746" width="1" height="40.5" fill="#eb4d5c"/><rect x="495" y="733" width="1" height="53.5" fill="#eb4d5c"/><rect x="503" y="733.9" width="1" height="52.6" fill="#eb4d5c"/><rect x="511" y="737.1" width="1" height="49.4" fill="#eb4d5c"/><rect x="519" y="742" width="1" height="44.5" fill="#eb4d5c"/><rect x="527" y="752" width="1" height="34.5" fill="#eb4d5c"/><rect x="535" y="757.1" width="1" height="29.4" fill="#eb4d5c"/><rect x="543" y="768.2" width="1" height="18.3" fill="#eb4d5c"/><rect x="551" y="746.9" width="1" height="39.6" fill="#eb4d5c"/><rect x="559" y="725.2" width="1" height="61.3" fill="#eb4d5c"/><rect x="567" y="727.1" width="1" height="59.4" fill="#eb4d5c"/><rect x="575" y="728.1" width="1" height="58.4" fill="#eb4d5c"/><rect x="583" y="741.1" width="1" height="45.4" fill="#eb4d5c"/><rect x="591" y="758.2" width="1" height="28.3" fill="#eb4d5c"/><rect x="599" y="765.1" width="1" height="21.4" fill="#eb4d5c"/><rect x="607" y="764.2" width="1" height="22.3" fill="#eb4d5c"/><rect x="615" y="752" width="1" height="34.5" fill="#eb4d5c"/><rect x="623" y="729" width="1" height="57.5" fill="#eb4d5c"/><rect x="631" y="746" width="1" height="40.5" fill="#eb4d5c"/><rect x="639" y="770.1" width="1" height="16.4" fill="#eb4d5c"/><rect x="647" y="765.2" width="1" height="21.3" fill="#eb4d5c"/><rect x="655" y="786.5" width="1" height="15.4" fill="#53b987"/><rect x="663" y="786.5" width="1" height="27.3" fill="#53b987"/><rect x="671" y="786.5" width="1" height="45.2" fill="#53b987"/><rect x="679" y="786.5" width="1" height="51.1" fill="#53b987"/><rect x="687" y="786.5" width="1" height="39.4" fill="#53b987"/><rect x="695" y="786.5" width="1" height="23" fill="#53b987"/><rect x="703" y="786.5" width="1" height="18.1" fill="#53b987"/><path d="M87.5 803.7C88.2 804.0 94.1 807.1 95.5 807.8C96.9 808.5 102.1 811.2 103.5 812.0C104.9 812.8 110.1 816.2 111.5 816.9C112.9 817.6 118.1 820.3 119.5 820.8C120.9 821.3 126.1 822.6 127.5 822.9C128.9 823.2 134.1 824.0 135.5 824.0C136.9 824.0 142.1 823.4 143.5 823.3C144.9 823.2 150.1 822.3 151.5 822.3C152.9 822.3 158.1 823.0 159.5 823.1C160.9 823.2 166.1 823.8 167.5 824.0C168.9 824.2 174.1 824.9 175.5 825.0C176.9 825.1 182.1 825.0 183.5 825.0C184.9 825.0 190.1 825.1 191.5 825.0C192.9 824.9 198.1 823.9 199.5 823.5C200.9 823.1 206.1 821.2 207.5 820.6C208.9 820.0 214.1 817.5 215.5 816.9C216.9 816.3 222.1 813.7 223.5 813.1C224.9 812.5 230.1 810.2 231.5 809.5C232.9 808.8 238.1 806.1 239.5 805.2C240.9 804.3 246.1 800.2 247.5 799.2C248.9 798.2 254.1 795.1 255.5 794.0C256.9 792.9 262.1 787.4 263.5 786.4C264.9 785.4 270.1 782.9 271.5 782.1C272.9 781.3 278.1 778.0 279.5 777.2C280.9 776.4 286.1 773.1 287.5 772.3C288.9 771.5 294.1 768.3 295.5 767.6C296.9 766.9 302.1 764.2 303.5 763.8C304.9 763.4 310.1 762.5 311.5 762.5C312.9 762.5 318.1 763.0 319.5 763.3C320.9 763.6 326.1 764.9 327.5 765.5C328.9 766.1 334.1 769.6 335.5 770.8C336.9 772.0 342.1 778.3 343.5 780.0C344.9 781.7 350.1 788.7 351.5 791.0C352.9 793.3 358.1 804.3 359.5 807.0C360.9 809.7 366.1 820.5 367.5 823.0C368.9 825.5 374.1 834.9 375.5 836.8C376.9 838.7 382.1 844.0 383.5 844.9C384.9 845.8 390.1 847.4 391.5 847.5C392.9 847.6 398.1 846.5 399.5 846.0C400.9 845.5 406.1 843.1 407.5 842.2C408.9 841.3 414.1 836.9 415.5 835.8C416.9 834.7 422.1 830.4 423.5 829.5C424.9 828.6 430.1 826.0 431.5 825.5C432.9 825.0 438.1 824.4 439.5 824.2C440.9 824.0 446.1 823.3 447.5 823.1C448.9 822.9 454.1 822.4 455.5 822.3C456.9 822.2 462.1 822.3 463.5 822.1C464.9 821.9 470.1 820.4 471.5 820.0C472.9 819.6 478.1 818.4 479.5 817.8C480.9 817.2 486.1 814.1 487.5 813.1C488.9 812.1 494.1 807.6 495.5 806.5C496.9 805.4 502.1 800.8 503.5 799.7C504.9 798.6 510.1 794.6 511.5 793.7C512.9 792.8 518.1 789.9 519.5 789.1C520.9 788.3 526.1 785.5 527.5 784.8C528.9 784.1 534.1 781.7 535.5 781.2C536.9 780.7 542.1 780.1 543.5 779.5C544.9 778.9 550.1 775.3 551.5 774.1C552.9 772.9 558.1 767.0 559.5 765.6C560.9 764.2 566.1 759.5 567.5 758.2C568.9 756.9 574.1 751.8 575.5 750.7C576.9 749.6 582.1 746.1 583.5 745.4C584.9 744.7 590.1 743.2 591.5 742.7C592.9 742.2 598.1 740.2 599.5 739.8C600.9 739.4 606.1 738.1 607.5 737.5C608.9 736.9 614.1 733.9 615.5 732.8C616.9 731.7 622.1 725.7 623.5 724.7C624.9 723.7 630.1 721.0 631.5 720.5C632.9 720.0 638.1 719.3 639.5 719.0C640.9 718.7 646.1 717.3 647.5 717.3C648.9 717.3 654.1 718.5 655.5 719.0C656.9 719.5 662.1 721.8 663.5 722.6C664.9 723.5 670.1 727.9 671.5 729.0C672.9 730.1 678.1 734.5 679.5 735.4C680.9 736.3 686.1 739.0 687.5 739.6C688.9 740.2 694.1 742.0 695.5 742.4C696.9 742.8 702.8 743.8 703.5 743.9" fill="none" stroke="#4fc08a" stroke-width="1" stroke-linejoin="round"/><path d="M87.5 816.3C88.2 817.1 94.1 824.7 95.5 825.9C96.9 827.1 102.1 829.4 103.5 830.1C104.9 830.8 110.1 833.4 111.5 834.0C112.9 834.6 118.1 837.1 119.5 837.0C120.9 836.9 126.1 833.7 127.5 832.9C128.9 832.1 134.1 828.8 135.5 827.6C136.9 826.4 142.1 819.1 143.5 818.4C144.9 817.7 150.1 819.1 151.5 819.7C152.9 820.3 158.1 825.2 159.5 825.9C160.9 826.6 166.1 827.7 167.5 828.0C168.9 828.3 174.1 829.6 175.5 829.3C176.9 829.0 182.1 825.5 183.5 825.0C184.9 824.5 190.1 824.1 191.5 823.3C192.9 822.5 198.1 816.8 199.5 815.4C200.9 814.0 206.1 808.4 207.5 807.3C208.9 806.2 214.1 802.9 215.5 802.0C216.9 801.1 222.1 797.4 223.5 796.7C224.9 796.0 230.1 794.9 231.5 794.1C232.9 793.3 238.1 789.1 239.5 787.7C240.9 786.3 246.1 778.9 247.5 777.5C248.9 776.1 254.1 772.0 255.5 770.8C256.9 769.6 262.1 763.8 263.5 762.9C264.9 762.0 270.1 761.4 271.5 760.8C272.9 760.2 278.1 756.0 279.5 755.5C280.9 755.0 286.1 755.2 287.5 754.8C288.9 754.4 294.1 751.2 295.5 750.6C296.9 750.0 302.1 747.6 303.5 748.0C304.9 748.4 310.1 753.1 311.5 754.8C312.9 756.5 318.1 766.5 319.5 768.2C320.9 769.9 326.1 772.7 327.5 774.4C328.9 776.1 334.1 784.6 335.5 787.8C336.9 791.0 342.1 807.8 343.5 811.9C344.9 816.0 350.1 830.3 351.5 835.8C352.9 841.3 358.1 872.0 359.5 876.3C360.9 880.5 366.1 884.2 367.5 885.8C368.9 887.4 374.1 895.5 375.5 894.8C376.9 894.1 382.1 881.4 383.5 878.0C384.9 874.6 390.1 858.3 391.5 855.0C392.9 851.7 398.1 841.7 399.5 839.0C400.9 836.3 406.1 825.6 407.5 823.0C408.9 820.4 414.1 810.5 415.5 808.7C416.9 806.9 422.1 801.9 423.5 802.2C424.9 802.5 430.1 810.7 431.5 812.1C432.9 813.5 438.1 817.5 439.5 818.2C440.9 818.9 446.1 820.0 447.5 820.2C448.9 820.4 454.1 820.4 455.5 820.4C456.9 820.4 462.1 820.7 463.5 820.2C464.9 819.7 470.1 814.9 471.5 814.0C472.9 813.1 478.1 811.0 479.5 809.3C480.9 807.6 486.1 796.8 487.5 794.4C488.9 792.0 494.1 782.2 495.5 780.5C496.9 778.8 502.1 775.5 503.5 774.6C504.9 773.8 510.1 771.1 511.5 770.5C512.9 769.9 518.1 767.3 519.5 767.1C520.9 766.9 526.1 768.4 527.5 768.4C528.9 768.4 534.1 767.1 535.5 767.3C536.9 767.5 542.1 771.6 543.5 770.5C544.9 769.4 550.1 756.8 551.5 753.9C552.9 751.0 558.1 738.4 559.5 736.4C560.9 734.4 566.1 731.6 567.5 730.5C568.9 729.4 574.1 723.9 575.5 723.4C576.9 722.9 582.1 724.2 583.5 724.7C584.9 725.2 590.1 728.5 591.5 729.0C592.9 729.5 598.1 730.8 599.5 730.5C600.9 730.2 606.1 726.9 607.5 725.8C608.9 724.7 614.1 719.6 615.5 717.3C616.9 715.0 622.1 699.8 623.5 698.5C624.9 697.2 630.1 700.6 631.5 701.7C632.9 702.8 638.1 710.9 639.5 711.3C640.9 711.7 646.1 705.4 647.5 706.6C648.9 707.8 654.1 723.3 655.5 725.8C656.9 728.3 662.1 734.4 663.5 736.5C664.9 738.6 670.1 748.3 671.5 750.3C672.9 752.3 678.1 759.7 679.5 760.5C680.9 761.3 686.1 759.7 687.5 759.2C688.9 758.7 694.1 755.1 695.5 754.6C696.9 754.1 702.8 753.2 703.5 753.1" fill="none" stroke="#3688f2" stroke-width="1" stroke-linejoin="round"/><text x="84.8" y="678.7" font-family="Liberation Sans" font-size="12" fill="#111" letter-spacing="0.13">MACD(13,8,9)</text><text x="167" y="678.7" font-family="Liberation Sans" font-size="12" fill="#3d8ff0" letter-spacing="-0.2">DIFF:0.1347</text><text x="241.3" y="678.7" font-family="Liberation Sans" font-size="12" fill="#4fc08a" letter-spacing="-0.1">DEA:0.1727</text><text x="314" y="678.7" font-family="Liberation Sans" font-size="12" fill="#45aeea" letter-spacing="0.33">MACD:-0.0760</text><g shape-rendering="crispEdges"><rect x="19" y="668" width="4" height="1" fill="#111"/><rect x="18" y="669" width="1" height="1" fill="#111"/><rect x="23" y="669" width="1" height="1" fill="#111"/><rect x="17" y="670" width="1" height="4" fill="#111"/><rect x="24" y="670" width="1" height="4" fill="#111"/><rect x="18" y="674" width="1" height="1" fill="#111"/><rect x="23" y="674" width="1" height="1" fill="#111"/><rect x="19" y="675" width="4" height="1" fill="#111"/><rect x="20" y="670" width="2" height="4" fill="#ff0000"/><rect x="19" y="671" width="4" height="2" fill="#ff0000"/><rect x="20" y="665" width="1" height="2" fill="#ff0000"/><rect x="20" y="677" width="1" height="2" fill="#ff0000"/><rect x="14" y="671" width="2" height="1" fill="#ff0000"/><rect x="26" y="671" width="2" height="1" fill="#ff0000"/><rect x="15" y="666" width="1" height="1" fill="#ff0000"/><rect x="16" y="667" width="1" height="1" fill="#ff0000"/><rect x="26" y="666" width="1" height="1" fill="#ff0000"/><rect x="25" y="667" width="1" height="1" fill="#ff0000"/><rect x="16" y="676" width="1" height="1" fill="#ff0000"/><rect x="15" y="677" width="1" height="1" fill="#ff0000"/><rect x="25" y="676" width="1" height="1" fill="#ff0000"/><rect x="26" y="677" width="1" height="1" fill="#ff0000"/></g><g fill="#ff0000" opacity="0.45"><rect x="21" y="665" width="0.5" height="2"/><rect x="21" y="677" width="0.5" height="2"/><rect x="14" y="672" width="2" height="0.4"/><rect x="26" y="672" width="2" height="0.4"/></g><line x1="215.5" y1="921" x2="215.5" y2="925" stroke="#b9c3d0" stroke-width="1"/><line x1="391.5" y1="921" x2="391.5" y2="925" stroke="#b9c3d0" stroke-width="1"/><text x="217.6" y="934" font-family="Liberation Sans" font-size="12" fill="#262626" font-weight="bold" letter-spacing="0.12">2026/01</text><text x="393.2" y="934" font-family="Liberation Sans" font-size="12" fill="#262626" font-weight="bold" letter-spacing="0.12">2026/02</text><rect x="492.4" y="921.6" width="110.3" height="16.9" fill="#fff" stroke="#e9edf2" stroke-width="1"/><text x="493.8" y="934.3" font-family="Liberation Sans" font-size="13.4" fill="#ff8a1f" letter-spacing="-0.27" stroke="#ff8a1f" stroke-width="0.25">2026/02/19</text><text x="563.8" y="935" font-family="'Liberation Sans','Noto Sans CJK SC',sans-serif" font-size="12.4" fill="#ff8a1f" stroke="#ff8a1f" stroke-width="0.27" letter-spacing="-0.4">星期四</text><rect x="12" y="921.5" width="69.7" height="19.3" fill="#fff" stroke="#cdd5df" stroke-width="1"/><text x="26.6" y="937.2" font-family="'Liberation Sans','Noto Sans CJK SC',sans-serif" font-size="12" font-weight="bold" fill="#ff6a00">日线</text><path d="M56.6 936.2 L61 927.6 L65.4 936.2 Z" fill="#ff6a00"/><rect x="12" y="941" width="39" height="15.5" fill="#ff6a00"/><text x="19.4" y="953.2" font-family="'Liberation Sans','Noto Sans CJK SC',sans-serif" font-size="12" fill="#fff">指标</text><text x="59.6" y="953.2" font-family="'Liberation Sans','Noto Sans CJK SC',sans-serif" font-size="12" fill="#222">模板</text><text x="100" y="952.6" font-family="Liberation Mono" font-size="10" fill="#ff7a10">VIP</text><text x="118.8" y="953.2" font-family="'Liberation Sans','Noto Sans CJK SC',sans-serif" font-size="12" fill="#ff7a10" letter-spacing="-0.2">指标</text><line x1="51" y1="941" x2="51" y2="957" stroke="#c5d2e0" stroke-width="1"/><line x1="91.5" y1="941" x2="91.5" y2="957" stroke="#c5d2e0" stroke-width="1"/><line x1="149.6" y1="941" x2="149.6" y2="957" stroke="#c5d2e0" stroke-width="1"/><line x1="177.5" y1="941" x2="177.5" y2="957" stroke="#c5d2e0" stroke-width="1"/><line x1="217.7" y1="941" x2="217.7" y2="957" stroke="#c5d2e0" stroke-width="1"/><line x1="257.4" y1="941" x2="257.4" y2="957" stroke="#c5d2e0" stroke-width="1"/><line x1="291.8" y1="941" x2="291.8" y2="957" stroke="#c5d2e0" stroke-width="1"/><line x1="331.9" y1="941" x2="331.9" y2="957" stroke="#c5d2e0" stroke-width="1"/><line x1="366.7" y1="941" x2="366.7" y2="957" stroke="#c5d2e0" stroke-width="1"/><line x1="399.8" y1="941" x2="399.8" y2="957" stroke="#c5d2e0" stroke-width="1"/><line x1="439.2" y1="941" x2="439.2" y2="957" stroke="#c5d2e0" stroke-width="1"/><line x1="473.8" y1="941" x2="473.8" y2="957" stroke="#c5d2e0" stroke-width="1"/><line x1="501.7" y1="941" x2="501.7" y2="957" stroke="#c5d2e0" stroke-width="1"/><line x1="535.4" y1="941" x2="535.4" y2="957" stroke="#c5d2e0" stroke-width="1"/><line x1="576" y1="941" x2="576" y2="957" stroke="#c5d2e0" stroke-width="1"/><text x="163.55" y="952.6" font-family="Liberation Mono" font-size="10" fill="#222" text-anchor="middle">MA</text><text x="197.6" y="952.6" font-family="Liberation Mono" font-size="10" fill="#222" text-anchor="middle">MACD</text><text x="237.55" y="952.6" font-family="Liberation Mono" font-size="10" fill="#222" text-anchor="middle">BOLL</text><text x="274.6" y="952.6" font-family="Liberation Mono" font-size="10" fill="#222" text-anchor="middle">VOL</text><text x="311.85" y="952.6" font-family="Liberation Mono" font-size="10" fill="#222" text-anchor="middle">BIAS</text><text x="349.3" y="952.6" font-family="Liberation Mono" font-size="10" fill="#222" text-anchor="middle">CCI</text><text x="383.25" y="952.6" font-family="Liberation Mono" font-size="10" fill="#222" text-anchor="middle">KDJ</text><text x="419.5" y="952.6" font-family="Liberation Mono" font-size="10" fill="#222" text-anchor="middle">LW&amp;</text><text x="456.5" y="952.6" font-family="Liberation Mono" font-size="10" fill="#222" text-anchor="middle">RSI</text><text x="487.75" y="952.6" font-family="Liberation Mono" font-size="10" fill="#222" text-anchor="middle">CR</text><text x="518.55" y="952.6" font-family="Liberation Mono" font-size="10" fill="#222" text-anchor="middle">PSY</text><text x="544" y="953.2" font-family="'Liberation Sans','Noto Sans CJK SC',sans-serif" font-size="12" fill="#222">设置</text><line x1="603" y1="937.7" x2="693" y2="937.7" stroke="#e9ecf0" stroke-width="1"/><line x1="0" y1="957.1" x2="845" y2="957.1" stroke="#c3cdd8" stroke-width="1.3"/><rect x="0" y="965.8" width="845" height="1.2" fill="#dadde2"/><rect x="734" y="960" width="111" height="5.7" fill="#b4b4ba"/><path d="M812 965.7 L823.6 959.8 L835.3 965.7 Z" fill="#55555c"/><text x="717" y="942" font-family="Liberation Sans" font-size="30" fill="#a08a78" letter-spacing="2.6" opacity="0.7" filter="url(#wb)">FX678</text><text x="715.8" y="940.8" font-family="Liberation Sans" font-size="30" fill="#d8e6f8" stroke="#d8e6f8" stroke-width="0.4" letter-spacing="2.6">FX678</text>
</svg>
</body></html>
